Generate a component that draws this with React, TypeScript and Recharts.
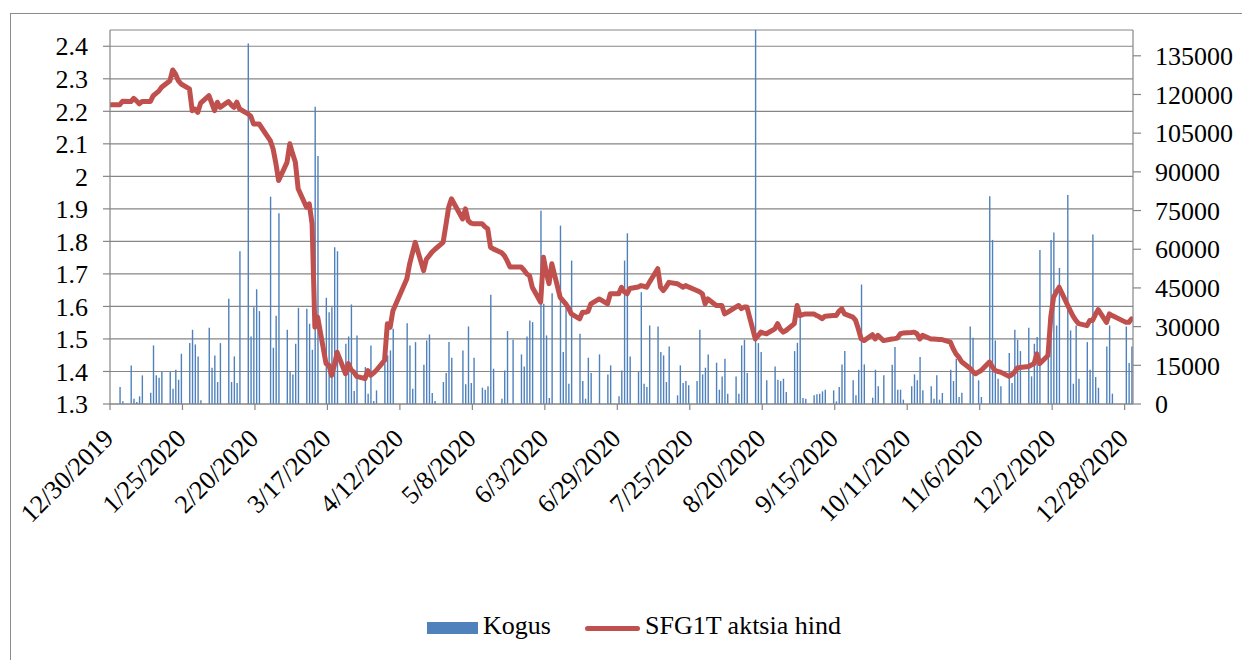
import React from "react";
import { ComposedChart, Bar, Line, XAxis, YAxis, CartesianGrid, Legend } from "recharts";

// Day offsets are counted from 12/30/2019 (day 0).
const tickDays = [0, 26, 52, 78, 104, 130, 156, 182, 208, 234, 260, 286, 312, 338, 364];
const tickLabels = ["12/30/2019", "1/25/2020", "2/20/2020", "3/17/2020", "4/12/2020", "5/8/2020", "6/3/2020", "6/29/2020", "7/25/2020", "8/20/2020", "9/15/2020", "10/11/2020", "11/6/2020", "12/2/2020", "12/28/2020"];
const priceTicks = [1.3, 1.4, 1.5, 1.6, 1.7, 1.8, 1.9, 2.0, 2.1, 2.2, 2.3, 2.4];
const volumeTicks = [0, 15000, 30000, 45000, 60000, 75000, 90000, 105000, 120000, 135000];

const volDays = [3, 4, 7, 8, 9, 10, 11, 14, 15, 16, 17, 18, 21, 22, 23, 24, 25, 28, 29, 30, 31, 32, 35, 36, 37, 38, 39, 42, 43, 44, 45, 46, 49, 50, 51, 52, 53, 57, 58, 59, 60, 63, 64, 65, 66, 67, 70, 71, 72, 73, 74, 77, 78, 79, 80, 81, 84, 85, 86, 87, 88, 91, 92, 93, 94, 95, 98, 99, 100, 101, 106, 107, 108, 109, 112, 113, 114, 115, 116, 119, 120, 121, 122, 126, 127, 128, 129, 130, 133, 134, 135, 136, 137, 140, 141, 142, 144, 147, 148, 149, 150, 151, 154, 155, 156, 157, 158, 161, 162, 163, 164, 165, 168, 169, 170, 171, 172, 175, 178, 179, 182, 183, 184, 185, 186, 189, 190, 191, 192, 193, 196, 197, 198, 199, 200, 203, 204, 205, 206, 207, 210, 211, 212, 213, 214, 217, 218, 219, 220, 221, 224, 225, 226, 227, 228, 231, 232, 233, 235, 238, 239, 240, 241, 242, 245, 246, 247, 248, 249, 252, 253, 254, 255, 256, 259, 260, 261, 262, 263, 266, 267, 268, 269, 270, 273, 274, 275, 277, 280, 281, 282, 283, 284, 287, 288, 289, 290, 291, 294, 295, 296, 297, 298, 301, 302, 303, 304, 305, 308, 309, 311, 312, 315, 316, 317, 318, 319, 322, 323, 324, 325, 326, 329, 330, 331, 332, 333, 336, 337, 338, 339, 340, 343, 344, 345, 346, 347, 350, 351, 352, 353, 354, 357, 358, 359, 364, 365, 366];
const volValues = [6580, 1030, 14970, 2060, 770, 2970, 11100, 4390, 22710, 11100, 10190, 12390, 12390, 5940, 13290, 9420, 19480, 23610, 28770, 23100, 18450, 1420, 29550, 14060, 18840, 8520, 23610, 40770, 8520, 18450, 8130, 59220, 139740, 26190, 37550, 44510, 36000, 80390, 21810, 34190, 73930, 28770, 12390, 11480, 23350, 37290, 36900, 31100, 21030, 115220, 96130, 41160, 35610, 37550, 60770, 59220, 23350, 26190, 38580, 5030, 26580, 14320, 4000, 22710, 1160, 5290, 15610, 18840, 20770, 29160, 31350, 22710, 5940, 24000, 15230, 24640, 26970, 4260, 1160, 8520, 12000, 24000, 17940, 20770, 7610, 30060, 8130, 17940, 6320, 5550, 6840, 42320, 13680, 2060, 13030, 28260, 24900, 19230, 14580, 26190, 32390, 31740, 74970, 38840, 26580, 2320, 42970, 69160, 20130, 39870, 7870, 55610, 27230, 8900, 2060, 17940, 12000, 19230, 11480, 14970, 2970, 13030, 55610, 66190, 18450, 12390, 43350, 7870, 6580, 30450, 30060, 20130, 18840, 8520, 22320, 3350, 14970, 8130, 8900, 7230, 8900, 28770, 11480, 14060, 19230, 16000, 5550, 10710, 17550, 4000, 10710, 4000, 22710, 24900, 12000, 145000, 23610, 20130, 9160, 14580, 9420, 8900, 9810, 4650, 20520, 23740, 34970, 2320, 2060, 3350, 3740, 4000, 4900, 5550, 5290, 1030, 6580, 15350, 20520, 9160, 3350, 13290, 46320, 15350, 2450, 13290, 6840, 11100, 15230, 22060, 5550, 5550, 1680, 6840, 11480, 9160, 18190, 5290, 6840, 2060, 11100, 1680, 4260, 13290, 8900, 17550, 2710, 4390, 30060, 25680, 9160, 2710, 80520, 63610, 24640, 9810, 6840, 19740, 8130, 28770, 24900, 20520, 29550, 10710, 23350, 25940, 59740, 19480, 63610, 66450, 30450, 52770, 81030, 28520, 7870, 30450, 9810, 24000, 13290, 65680, 10450, 6320, 22320, 30450, 4000, 30060, 15870, 22320];

const priceDays = [0, 1, 3, 4, 7, 8, 9, 10, 11, 14, 15, 16, 17, 18, 21, 22, 23, 24, 25, 28, 29, 30, 31, 32, 35, 36, 37, 38, 39, 42, 43, 44, 45, 46, 49, 50, 51, 52, 53, 57, 58, 59, 60, 63, 64, 65, 66, 67, 70, 71, 72, 73, 74, 77, 78, 79, 80, 81, 84, 85, 86, 87, 88, 91, 92, 93, 94, 95, 98, 99, 100, 101, 106, 107, 108, 109, 112, 113, 114, 115, 116, 119, 120, 121, 122, 126, 127, 128, 129, 130, 133, 134, 135, 136, 137, 140, 141, 142, 143, 144, 147, 148, 149, 150, 151, 154, 155, 156, 157, 158, 161, 162, 163, 164, 165, 168, 169, 170, 171, 172, 175, 178, 179, 182, 183, 184, 185, 186, 189, 190, 191, 192, 193, 196, 197, 198, 199, 200, 203, 204, 205, 206, 207, 210, 211, 212, 213, 214, 217, 218, 219, 220, 221, 224, 225, 226, 227, 228, 231, 232, 233, 234, 235, 238, 239, 240, 241, 242, 245, 246, 247, 248, 249, 252, 253, 254, 255, 256, 259, 260, 261, 262, 263, 266, 267, 268, 269, 270, 273, 274, 275, 276, 277, 280, 281, 282, 283, 284, 287, 288, 289, 290, 291, 294, 295, 296, 297, 298, 301, 302, 303, 304, 305, 308, 309, 310, 311, 312, 315, 316, 317, 318, 319, 322, 323, 324, 325, 326, 329, 330, 331, 332, 333, 336, 337, 338, 339, 340, 343, 344, 345, 346, 347, 350, 351, 352, 353, 354, 357, 358, 359, 364, 365, 366];
const priceValues = [2.22, 2.22, 2.22, 2.231, 2.23, 2.24, 2.232, 2.223, 2.23, 2.23, 2.248, 2.255, 2.262, 2.274, 2.294, 2.327, 2.315, 2.294, 2.284, 2.269, 2.202, 2.207, 2.197, 2.225, 2.248, 2.225, 2.202, 2.228, 2.212, 2.23, 2.22, 2.212, 2.228, 2.207, 2.192, 2.185, 2.161, 2.161, 2.161, 2.11, 2.085, 2.04, 1.987, 2.043, 2.1, 2.07, 2.043, 1.962, 1.905, 1.915, 1.854, 1.536, 1.567, 1.424, 1.42, 1.388, 1.42, 1.459, 1.393, 1.424, 1.405, 1.398, 1.385, 1.378, 1.403, 1.388, 1.395, 1.403, 1.434, 1.547, 1.536, 1.587, 1.685, 1.731, 1.765, 1.797, 1.71, 1.745, 1.756, 1.767, 1.775, 1.797, 1.85, 1.905, 1.931, 1.869, 1.9, 1.864, 1.856, 1.854, 1.854, 1.845, 1.839, 1.782, 1.777, 1.765, 1.756, 1.74, 1.721, 1.721, 1.721, 1.712, 1.7, 1.695, 1.659, 1.613, 1.751, 1.705, 1.67, 1.731, 1.628, 1.618, 1.608, 1.595, 1.577, 1.562, 1.582, 1.582, 1.585, 1.608, 1.623, 1.608, 1.639, 1.639, 1.659, 1.645, 1.639, 1.655, 1.66, 1.664, 1.662, 1.659, 1.674, 1.716, 1.659, 1.649, 1.66, 1.674, 1.67, 1.665, 1.659, 1.664, 1.66, 1.649, 1.645, 1.639, 1.608, 1.623, 1.603, 1.603, 1.603, 1.577, 1.582, 1.598, 1.603, 1.593, 1.598, 1.598, 1.5, 1.51, 1.521, 1.518, 1.516, 1.531, 1.547, 1.53, 1.521, 1.526, 1.547, 1.603, 1.572, 1.575, 1.577, 1.577, 1.572, 1.568, 1.562, 1.57, 1.572, 1.572, 1.585, 1.593, 1.577, 1.567, 1.557, 1.53, 1.5, 1.495, 1.513, 1.5, 1.511, 1.503, 1.495, 1.5, 1.501, 1.503, 1.516, 1.518, 1.52, 1.521, 1.516, 1.5, 1.511, 1.5, 1.5, 1.499, 1.498, 1.498, 1.49, 1.47, 1.454, 1.444, 1.43, 1.41, 1.4, 1.393, 1.398, 1.403, 1.429, 1.415, 1.403, 1.4, 1.398, 1.385, 1.39, 1.398, 1.411, 1.412, 1.415, 1.42, 1.424, 1.454, 1.424, 1.449, 1.567, 1.628, 1.645, 1.659, 1.605, 1.587, 1.57, 1.557, 1.547, 1.541, 1.557, 1.557, 1.575, 1.59, 1.551, 1.577, 1.572, 1.551, 1.551, 1.562];

type Row = { day: number; x: number; volume?: number; price?: number };

const rowMap = new Map<number, Row>();
const rowFor = (d: number): Row => {
  let r = rowMap.get(d);
  if (!r) {
    r = { day: d, x: d + 0.5 }; // centre of the day's band on the date axis
    rowMap.set(d, r);
  }
  return r;
};
volDays.forEach((d, i) => { rowFor(d).volume = volValues[i]; });
priceDays.forEach((d, i) => { rowFor(d).price = priceValues[i]; });
const rows: Row[] = Array.from(rowMap.values()).sort((a, b) => a.day - b.day);

const FONT = '"Liberation Serif", "Times New Roman", serif';
const AXIS = "#868686";
const BLUE = "#4F81BD";
const RED = "#C0504D";

const XTick = (props: any) => {
  const { x, y, payload } = props;
  const i = tickDays.indexOf(payload.value);
  const ax = x + 5;
  const ay = y + 30;
  return (
    <text x={ax} y={ay} transform={`rotate(-45 ${ax} ${ay})`} textAnchor="end" fontFamily={FONT} fontSize={26} fill="#000">
      {i >= 0 ? tickLabels[i] : ""}
    </text>
  );
};

const LegendContent = () => (
  <div style={{ position: "relative", width: 1242, height: 32, fontFamily: FONT, fontSize: 26, color: "#000" }}>
    <div style={{ position: "absolute", left: 427, top: 12, width: 51, height: 12, background: BLUE }} />
    <div style={{ position: "absolute", left: 483, top: 0, lineHeight: "32px", whiteSpace: "nowrap" }}>Kogus</div>
    <div style={{ position: "absolute", left: 585, top: 15.5, width: 55, height: 5, background: RED, borderRadius: 2.5 }} />
    <div style={{ position: "absolute", left: 645, top: 0, lineHeight: "32px", whiteSpace: "nowrap" }}>SFG1T aktsia hind</div>
  </div>
);

export default function App() {
  return (
    <div style={{ position: "fixed", left: 0, top: 0, width: 1242, height: 660, overflow: "hidden", background: "#fff" }}>
      <div style={{ position: "absolute", left: 10, top: 13, width: 1260, height: 700, border: "1px solid #8c8c8c", boxSizing: "border-box" }} />
      <div style={{ position: "absolute", left: 0, top: 0 }}>
        <ComposedChart width={1242} height={660} data={rows} margin={{ top: 30, right: 9, bottom: 100, left: 50 }}>
          <CartesianGrid yAxisId="left" vertical={false} stroke={AXIS} strokeWidth={1.2} />
          <XAxis
            type="number"
            dataKey="x"
            domain={[0, 367]}
            allowDataOverflow
            ticks={tickDays}
            interval={0}
            height={156}
            tickSize={6}
            tickMargin={0}
            axisLine={{ stroke: AXIS, strokeWidth: 1.2 }}
            tickLine={{ stroke: AXIS, strokeWidth: 1.2 }}
            tick={<XTick />}
          />
          <YAxis
            yAxisId="left"
            orientation="left"
            width={60}
            domain={[1.3, 2.45]}
            allowDataOverflow
            ticks={priceTicks}
            interval={0}
            tickSize={7}
            tickMargin={15}
            tickFormatter={(v: number) => String(Number(v.toFixed(1)))}
            axisLine={{ stroke: AXIS, strokeWidth: 1.2 }}
            tickLine={{ stroke: AXIS, strokeWidth: 1.2 }}
            tick={{ fontFamily: FONT, fontSize: 26, fill: "#000" }}
          />
          <YAxis
            yAxisId="right"
            orientation="right"
            width={100}
            domain={[0, 145000]}
            allowDataOverflow
            ticks={volumeTicks}
            interval={0}
            tickSize={8}
            tickMargin={14}
            axisLine={{ stroke: AXIS, strokeWidth: 1.2 }}
            tickLine={{ stroke: AXIS, strokeWidth: 1.2 }}
            tick={{ fontFamily: FONT, fontSize: 26, fill: "#000" }}
          />
          <Bar yAxisId="right" dataKey="volume" name="Kogus" fill={BLUE} barSize={1.4} isAnimationActive={false} />
          <Line
            yAxisId="left"
            dataKey="price"
            name="SFG1T aktsia hind"
            type="linear"
            stroke={RED}
            strokeWidth={5}
            strokeLinejoin="round"
            strokeLinecap="round"
            dot={false}
            activeDot={false}
            connectNulls
            isAnimationActive={false}
          />
          <Legend
            layout="horizontal"
            verticalAlign="middle"
            align="center"
            wrapperStyle={{ top: 610, left: 0, width: 1242, height: 32 }}
            content={<LegendContent />}
          />
        </ComposedChart>
      </div>
    </div>
  );
}
